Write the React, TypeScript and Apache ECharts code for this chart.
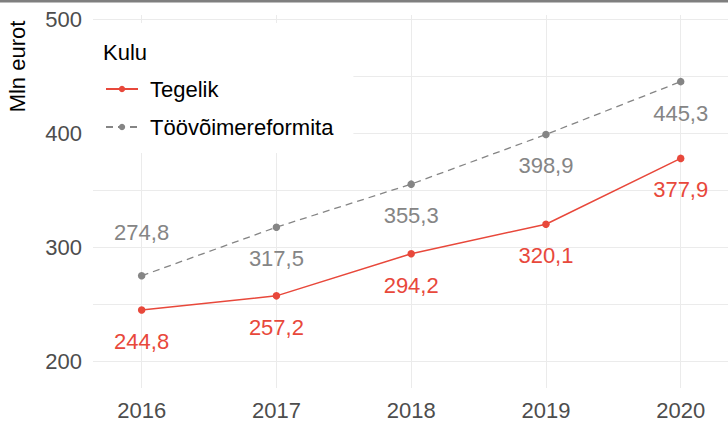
import React, { useEffect, useRef } from "react";
import * as echarts from "echarts";

const years = [2016, 2017, 2018, 2019, 2020];
const tegelik = [244.8, 257.2, 294.2, 320.1, 377.9];
const reformita = [274.8, 317.5, 355.3, 398.9, 445.3];
const yTickLabels = [200, 300, 400, 500];
const yGridValues = [200, 250, 300, 350, 400, 450, 500];
const seriesNames = ["Tegelik", "Töövõimereformita"];
const legendTitle = "Kulu";
const yAxisTitle = "Mln eurot";

const FONT = "'Liberation Sans', Arial, sans-serif";
const RED = "#E8483B";
const GRAY = "#858585";

const fmt = (v: number) => v.toFixed(1).replace(".", ",");

export default function App() {
  const ref = useRef<HTMLDivElement>(null);
  useEffect(() => {
    if (!ref.current) return;
    const chart = echarts.init(ref.current, null, { renderer: "svg" });
    const redData = years.map((y, i) => [y, tegelik[i]]);
    const grayData = years.map((y, i) => ({
      value: [y, reformita[i]],
      label: { offset: i === 0 ? [0, -43.5] : [0, 31.5] },
    }));
    chart.setOption({
      animation: false,
      backgroundColor: "#ffffff",
      grid: { left: 93, right: 0, top: 15, bottom: 35, containLabel: false },
      xAxis: {
        type: "value",
        min: 2015.639,
        max: 2020.351,
        axisLine: { show: false },
        axisTick: { show: false, customValues: years },
        axisLabel: {
          customValues: years,
          formatter: (v: number) => String(v),
          color: "#4D4D4D",
          fontSize: 22,
          fontFamily: FONT,
          margin: 11,
        },
        splitLine: { show: true, lineStyle: { color: "#EBEBEB", width: 1 } },
      },
      yAxis: {
        type: "value",
        min: 176.3,
        max: 503.8,
        axisLine: { show: false },
        axisTick: { show: false, customValues: yGridValues },
        axisLabel: {
          customValues: yTickLabels,
          color: "#4D4D4D",
          fontSize: 22,
          fontFamily: FONT,
          margin: 11,
        },
        splitLine: { show: true, lineStyle: { color: "#EBEBEB", width: 1 } },
      },
      legend: {
        orient: "vertical",
        left: 93,
        top: 23,
        padding: [55, 20, 15, 12],
        backgroundColor: "#ffffff",
        itemWidth: 32,
        itemHeight: 8,
        itemGap: 16,
        data: seriesNames,
        textStyle: {
          fontSize: 22,
          fontFamily: FONT,
          color: "#000000",
          padding: [0, 0, 0, 7],
        },
      },
      graphic: [
        {
          type: "rect",
          z: 100,
          shape: { x: 0, y: 0, width: 728, height: 2.5 },
          style: { fill: "#7F7F7F" },
        },
        {
          type: "text",
          z: 100,
          x: 103,
          y: 52,
          style: {
            text: legendTitle,
            fontSize: 22,
            fontFamily: FONT,
            fill: "#000000",
            align: "left",
            verticalAlign: "middle",
          },
        },
        {
          type: "text",
          z: 100,
          x: 17.3,
          y: 66.5,
          rotation: Math.PI / 2,
          style: {
            text: yAxisTitle,
            fontSize: 22,
            fontFamily: FONT,
            fill: "#000000",
            align: "center",
            verticalAlign: "middle",
          },
        },
      ],
      series: [
        {
          name: seriesNames[0],
          type: "line",
          data: redData,
          symbol: "circle",
          symbolSize: 7.5,
          itemStyle: { color: RED },
          lineStyle: { color: RED, width: 1.5 },
          label: {
            show: true,
            position: "inside",
            offset: [0, 31.5],
            color: RED,
            fontSize: 22,
            fontFamily: FONT,
            formatter: (p: any) => fmt(p.value[1]),
          },
        },
        {
          name: seriesNames[1],
          type: "line",
          data: grayData,
          symbol: "circle",
          symbolSize: 7.5,
          itemStyle: { color: GRAY },
          lineStyle: { color: GRAY, width: 1.3, type: [7, 5] },
          label: {
            show: true,
            position: "inside",
            color: GRAY,
            fontSize: 22,
            fontFamily: FONT,
            formatter: (p: any) => fmt(p.value[1]),
          },
        },
      ],
    });
    return () => chart.dispose();
  }, []);
  return (
    <div
      ref={ref}
      style={{ position: "fixed", left: 0, top: 0, width: 728, height: 423 }}
    />
  );
}
